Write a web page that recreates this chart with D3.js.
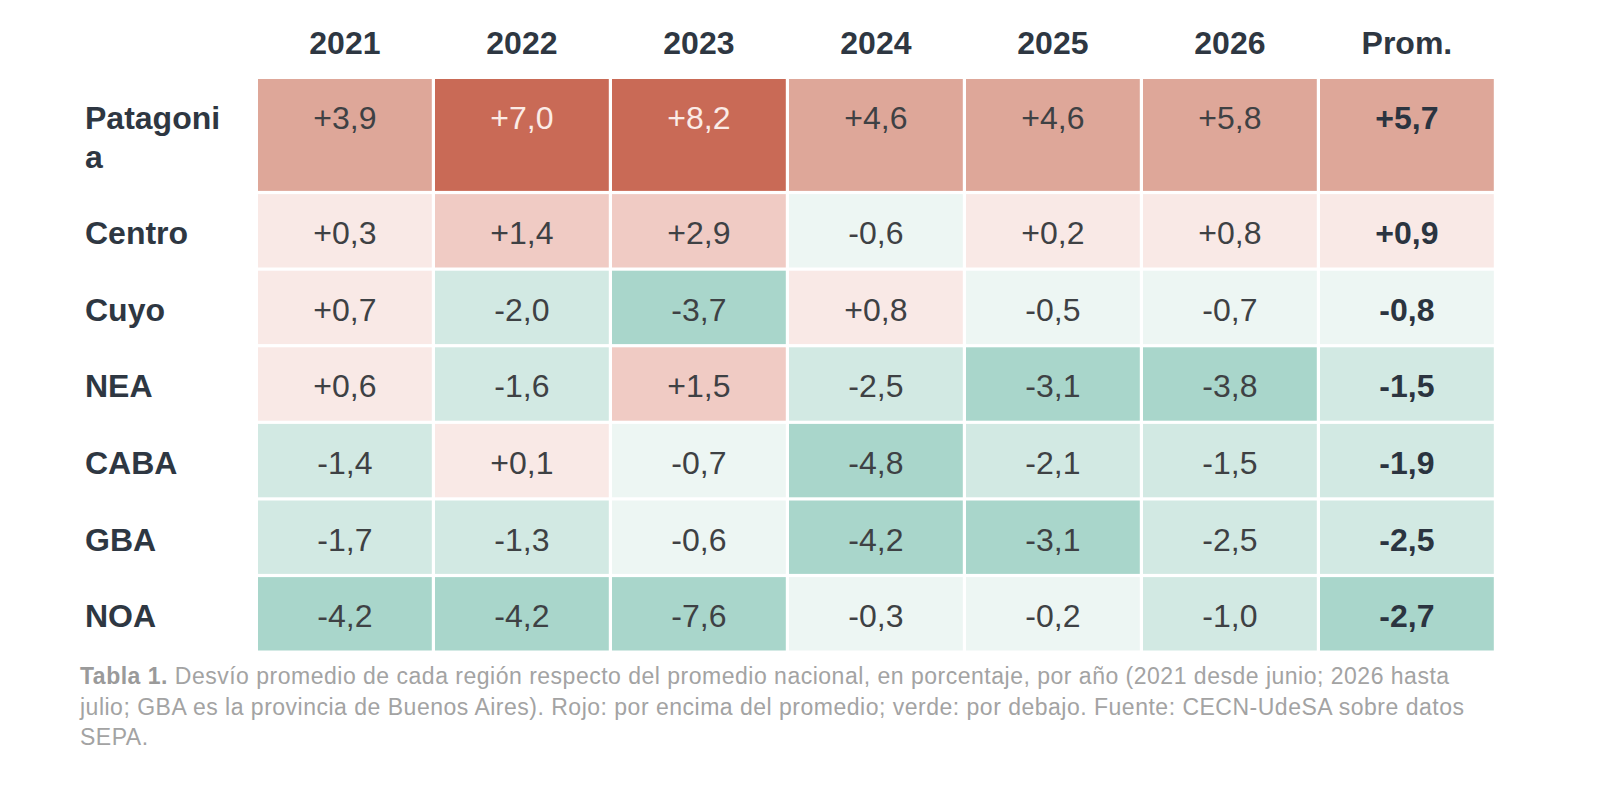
<!DOCTYPE html>
<html>
<head>
<meta charset="utf-8">
<script src="https://cdn.jsdelivr.net/npm/d3@7"></script>
<style>
  html, body { margin: 0; padding: 0; background: #ffffff; }
  svg { display: block; font-family: "Liberation Sans", Arial, Helvetica, sans-serif; }
</style>
</head>
<body>
<svg id="chart" width="1600" height="798"></svg>
<script>
// ---- data ----
const columns = ["2021", "2022", "2023", "2024", "2025", "2026", "Prom."];
const regions = ["Patagonia", "Centro", "Cuyo", "NEA", "CABA", "GBA", "NOA"];
const patagonia = [3.9, 7.0, 8.2, 4.6, 4.6, 5.8, 5.7];
const centro    = [0.3, 1.4, 2.9, -0.6, 0.2, 0.8, 0.9];
const cuyo      = [0.7, -2.0, -3.7, 0.8, -0.5, -0.7, -0.8];
const nea       = [0.6, -1.6, 1.5, -2.5, -3.1, -3.8, -1.5];
const caba      = [-1.4, 0.1, -0.7, -4.8, -2.1, -1.5, -1.9];
const gba       = [-1.7, -1.3, -0.6, -4.2, -3.1, -2.5, -2.5];
const noa       = [-4.2, -4.2, -7.6, -0.3, -0.2, -1.0, -2.7];
const seriesValues = [patagonia, centro, cuyo, nea, caba, gba, noa];
const colorThresholds = [-2.6, -0.95, 0, 1, 3, 6];
const colorBins = ["#a9d6cb", "#d2e9e3", "#edf6f3", "#f9e9e6", "#f0cbc4", "#dea799", "#c96a56"];
const captionBold = "Tabla 1.";
const captionLines = [
  " Desvío promedio de cada región respecto del promedio nacional, en porcentaje, por año (2021 desde junio; 2026 hasta",
  "julio; GBA es la provincia de Buenos Aires). Rojo: por encima del promedio; verde: por debajo. Fuente: CECN-UdeSA sobre datos",
  "SEPA."
];

// ---- setup ----
const svg = d3.select("#chart");
const fontSize = 32;
const lineH = 38.5;
const unitH = 76.6;
const gap = 3.2;
const labelX = 85;
const labelMax = 145;
const tableTop = 79;

const locale = d3.formatLocale({decimal: ",", thousands: ".", grouping: [3], currency: ["$", ""], minus: "-"});
const fmt = locale.format("+.1f");
const color = d3.scaleThreshold().domain(colorThresholds).range(colorBins);

// measure & wrap row labels by character
const measurer = svg.append("text")
  .attr("font-size", fontSize).attr("font-weight", "bold").attr("visibility", "hidden");
function wrapLabel(label) {
  const lines = [];
  let cur = "";
  for (const ch of label) {
    measurer.text(cur + ch);
    if (cur && measurer.node().getComputedTextLength() > labelMax) {
      lines.push(cur); cur = ch;
    } else cur += ch;
  }
  lines.push(cur);
  return lines;
}
const rows = regions.map((r, i) => {
  const lines = wrapLabel(r);
  return {region: r, lines, units: 1 + (lines.length - 1) * (lineH / unitH), values: seriesValues[i]};
});
measurer.remove();
let acc = 0;
rows.forEach(r => { r.start = acc; acc += r.units; });
const totalUnits = acc;

const x = d3.scaleBand().domain(columns).range([258, 1497]).paddingInner(0);
const y = d3.scaleLinear().domain([0, totalUnits]).range([tableTop, tableTop + totalUnits * unitH]);

// headers
svg.append("g").selectAll("text").data(columns).join("text")
  .attr("x", d => x(d) + (x.bandwidth() - gap) / 2)
  .attr("y", 54)
  .attr("text-anchor", "middle")
  .attr("font-size", fontSize)
  .attr("font-weight", "bold")
  .attr("fill", "#2e3742")
  .text(d => d);

// rows
const rowG = svg.append("g").selectAll("g").data(rows).join("g");

rowG.selectAll("rect").data(r => r.values.map((v, j) => ({v, col: columns[j], row: r}))).join("rect")
  .attr("x", d => x(d.col))
  .attr("y", d => y(d.row.start))
  .attr("width", x.bandwidth() - gap)
  .attr("height", d => y(d.row.start + d.row.units) - y(d.row.start) - gap)
  .attr("fill", d => color(d.v));

rowG.selectAll("text.val").data(r => r.values.map((v, j) => ({v, col: columns[j], row: r, j}))).join("text")
  .attr("class", "val")
  .attr("x", d => x(d.col) + (x.bandwidth() - gap) / 2)
  .attr("y", d => y(d.row.start) + 50)
  .attr("text-anchor", "middle")
  .attr("font-size", fontSize)
  .attr("font-weight", d => d.col === "Prom." ? "bold" : "normal")
  .attr("fill", d => d.v >= colorThresholds[5] ? "#fbece7" : (d.col === "Prom." ? "#2b3440" : "#3e4144"))
  .text(d => fmt(d.v));

rowG.append("text")
  .attr("x", labelX)
  .attr("y", r => y(r.start) + 50)
  .attr("font-size", fontSize)
  .attr("font-weight", "bold")
  .attr("fill", "#2e3742")
  .selectAll("tspan").data(r => r.lines).join("tspan")
  .attr("x", labelX)
  .attr("dy", (d, i) => i === 0 ? 0 : lineH)
  .text(d => d);

// caption
const cap = svg.append("text")
  .attr("x", 80)
  .attr("y", 684)
  .attr("font-size", 23)
  .attr("letter-spacing", 0.5)
  .attr("fill", "#a3a3a3");
captionLines.forEach((line, i) => {
  if (i === 0) {
    cap.append("tspan").attr("x", 80).attr("font-weight", "bold").attr("fill", "#9a9a9a").text(captionBold);
    cap.append("tspan").text(line);
  } else {
    cap.append("tspan").attr("x", 80).attr("dy", 30.5).text(line);
  }
});
</script>
</body>
</html>
